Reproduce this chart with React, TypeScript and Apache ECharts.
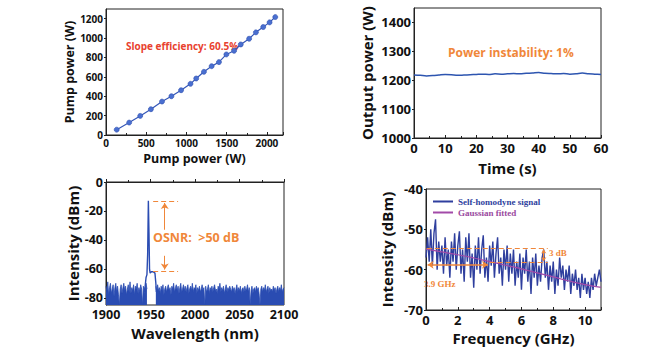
import React, { useEffect, useRef } from "react";
import * as echarts from "echarts";

// Panel (a): pump power vs output power
const pumpIn = [133, 288, 425, 558, 696, 813, 933, 1050, 1121, 1217, 1313, 1404, 1496, 1592, 1675, 1779, 1863, 1954, 2033, 2104];
const pumpOut = [55, 128, 197, 266, 345, 400, 462, 528, 583, 652, 710, 752, 831, 869, 934, 993, 1059, 1114, 1162, 1217];

// Panel (b): output power stability
const timeS = [0, 2, 4, 6, 8, 10, 12, 14, 16, 18, 20, 22, 24, 26, 28, 30, 32, 34, 36, 38, 40, 42, 44, 46, 48, 50, 52, 54, 56, 58, 60];
const outPower = [1218, 1217, 1215, 1216, 1218, 1220, 1219, 1217, 1218, 1219, 1220, 1221, 1220, 1222, 1221, 1222, 1223, 1222, 1224, 1225, 1227, 1224, 1223, 1222, 1223, 1221, 1222, 1225, 1222, 1221, 1220];

// Panel (c): optical spectrum, noise floor 1900..2100 nm at 1 nm steps (null under the peak)
const noiseStart = 1900;
const noiseFloor = [
  -72, -76, -69, -78, -73, -70, -77, -74, -71, -79,
  -73, -70, -76, -72, -78, -85, -74, -71, -77, -73,
  -70, -75, -72, -78, -74, -71, -76, -69, -77, -73,
  -75, -71, -78, -72, -74, -70, -77, -73, -76, -71,
  -74, -85, -72, -77, -73, -70, -74, null, null, null,
  null, null, null, null, null, null, -72, -76, -71, -75,
  -73, -77, -72, -75, -71, -78, -74, -72, -76, -73,
  -71, -75, -73, -78, -72, -74, -70, -76, -73, -71,
  -75, -72, -77, -73, -70, -76, -74, -71, -75, -72,
  -76, -73, -71, -77, -74, -72, -75, -70, -76, -73,
  -74, -71, -77, -73, -75, -72, -76, -74, -71, -75,
  -73, -85, -72, -76, -74, -71, -77, -73, -75, -72,
  -76, -73, -71, -75, -74, -77, -72, -74, -70, -76,
  -73, -75, -72, -77, -74, -71, -76, -73, -75, -72,
  -74, -76, -72, -75, -73, -77, -74, -71, -76, -73,
  -75, -72, -77, -74, -73, -76, -72, -75, -74, -71,
  -76, -73, -85, -75, -72, -77, -74, -73, -76, -72,
  -75, -73, -77, -85, -74, -72, -76, -73, -75, -71,
  -76, -74, -72, -77, -73, -75, -74, -76, -72, -75,
  -73, -77, -74, -72, -76, -73, -75, -71, -76, -74,
  -73,
];
const peakWl = [1943, 1944, 1945, 1946, 1946.8, 1947.6, 1948.3, 1948.9, 1949.6, 1951, 1953, 1955, 1956, 1956.6];
const peakDb = [-76, -72, -66, -64, -50, -13, -35, -60, -63, -62, -62, -63, -70, -76];

// Panel (d): self-homodyne spectrum, 0..11 GHz at 0.1 GHz steps
const freqStep = 0.1;
const homodyne = [
  -57, -52, -58, -50, -59, -51, -47.5, -60, -53, -58,
  -54, -61, -52, -59, -55, -62, -53, -58, -51, -60,
  -54, -50.5, -61, -55, -63, -52, -58, -51, -62, -56,
  -64.5, -54, -60, -52, -61, -55, -51.5, -62, -57, -63,
  -54, -59, -53, -62, -56, -52, -61, -57, -64, -55,
  -60, -54, -63, -56, -61, -55, -64, -58, -62, -56,
  -65, -57, -61, -55, -63, -58, -66, -57, -62, -56,
  -64, -59, -63, -57, -55, -62, -58, -65, -59, -63,
  -58, -66, -60, -64, -57, -62, -59, -65, -60, -63,
  -59, -66, -61, -64, -60, -65, -62, -67, -61, -65,
  -62, -66, -63, -67, -62, -65, -61, -64, -62, -60,
  -63,
];
const fitF = [0, 1, 2, 3, 4, 5, 6, 7, 8, 9, 10, 11];
const fitDb = [-54.9, -55.6, -56.3, -57.1, -58.0, -58.9, -59.8, -60.8, -61.8, -62.8, -63.7, -64.4];

const SANS = "'Open Sans', 'Noto Sans', sans-serif";
const SERIF = "'Liberation Serif', 'DejaVu Serif', serif";
const ORANGE = "#f0873a";
const AXC = "#222";
const plain = (v: number) => String(v);

function xAx(gi: number, min: number, max: number, interval: number, name: string, fs: number, nfs: number, gap: number, extra: any = {}) {
  return {
    type: "value", gridIndex: gi, min, max, interval, name, nameLocation: "middle", nameGap: gap,
    nameTextStyle: { fontFamily: SANS, fontWeight: "bold", fontSize: nfs, color: "#111" },
    axisLine: { show: true, lineStyle: { color: AXC, width: 1 } },
    axisTick: { show: true, inside: true, length: 3, lineStyle: { color: AXC } },
    minorTick: { show: true, splitNumber: 2, length: 2, lineStyle: { color: AXC } },
    axisLabel: { fontFamily: SANS, fontWeight: "bold", fontSize: fs, color: "#111", margin: 3, showMaxLabel: false, formatter: plain, ...(extra.axisLabel || {}) },
    splitLine: { show: false },
  };
}
function yAx(gi: number, min: number, max: number, interval: number | undefined, name: string, fs: number, nfs: number, gap: number, extra: any = {}) {
  const o: any = {
    type: "value", gridIndex: gi, min, max, name, nameLocation: "middle", nameGap: gap,
    nameTextStyle: { fontFamily: SANS, fontWeight: "bold", fontSize: nfs, color: "#111" },
    axisLine: { show: true, lineStyle: { color: AXC, width: 1 } },
    axisTick: { show: true, inside: false, length: 2, lineStyle: { color: AXC }, ...(extra.axisTick || {}) },
    axisLabel: { fontFamily: SANS, fontWeight: "bold", fontSize: fs, color: "#111", margin: 3, showMaxLabel: false, formatter: plain, ...(extra.axisLabel || {}) },
    splitLine: { show: false },
  };
  if (interval !== undefined) o.interval = interval;
  return o;
}

export default function App() {
  const ref = useRef<HTMLDivElement>(null);
  useEffect(() => {
    if (!ref.current) return;
    const chart = echarts.init(ref.current, undefined, { renderer: "svg" });

    const pumpData = pumpIn.map((x, i) => [x, pumpOut[i]]);
    const timeData = timeS.map((t, i) => [t, outPower[i]]);
    const noiseData = noiseFloor.map((v, i) => [noiseStart + i, v]);
    const peakData = peakWl.map((w, i) => [w, peakDb[i]]);
    const homoData = homodyne.map((v, i) => [Math.round(i * freqStep * 10) / 10, v]);
    const fitData = fitF.map((f, i) => [f, fitDb[i]]);

    const grid = (left: number, top: number, width: number, height: number) => ({
      left, top, width, height, show: true, borderColor: AXC, borderWidth: 1, backgroundColor: "#fff",
    });

    const yCustom = [0, -20, -40, -60, -80];

    chart.setOption({
      animation: false,
      backgroundColor: "#fff",
      grid: [grid(106, 9, 177, 126), grid(414, 8, 187, 130), grid(106, 182, 178, 123), grid(426, 189, 175, 121)],
      xAxis: [
        xAx(0, 0, 2200, 500, "Pump power (W)", 10, 12.5, 17),
        xAx(1, 0, 60, 10, "Time (s)", 13, 15, 22, { axisLabel: { showMaxLabel: true } }),
        xAx(2, 1900, 2100, 50, "Wavelength (nm)", 12.5, 15, 20, { axisLabel: { showMaxLabel: true } }),
        xAx(3, 0, 11, 2, "Frequency (GHz)", 13, 15, 20),
      ],
      yAxis: [
        yAx(0, 0, 1300, 200, "Pump power (W)", 10, 12.5, 30),
        yAx(1, 1000, 1450, 100, "Output power (W)", 13, 15, 40),
        yAx(2, -85, 0, undefined, "Intensity (dBm)", 12.5, 15, 25, {
          axisLabel: { customValues: yCustom, showMaxLabel: true },
          axisTick: { customValues: yCustom },
        }),
        yAx(3, -70, -40, 10, "Intensity (dBm)", 13, 15, 32, { axisLabel: { showMaxLabel: true } }),
      ],
      legend: {
        left: 428, top: 192, orient: "vertical", itemGap: 2, itemWidth: 20, itemHeight: 2, icon: "rect",
        textStyle: { fontFamily: SERIF, fontWeight: "bold", fontSize: 9 },
        data: [
          { name: "Self-homodyne signal", textStyle: { color: "#2f3f9e" } },
          { name: "Gaussian fitted", textStyle: { color: "#9a4aa0" } },
        ],
      },
      series: [
        {
          type: "line", xAxisIndex: 0, yAxisIndex: 0, data: pumpData, symbol: "circle", symbolSize: 5,
          lineStyle: { color: "#3557b8", width: 1.2 },
          itemStyle: { color: "#4a6fd0", borderColor: "#2e4fae", borderWidth: 0.6 },
        },
        {
          type: "line", xAxisIndex: 1, yAxisIndex: 1, data: timeData, symbol: "none", smooth: 0.3,
          lineStyle: { color: "#2d55b0", width: 1.5 },
        },
        {
          type: "line", xAxisIndex: 2, yAxisIndex: 2, data: noiseData, symbol: "none", connectNulls: false,
          lineStyle: { color: "#2a4cb2", width: 0.8 },
          areaStyle: { color: "#2a4cb2", opacity: 1, origin: "start" },
        },
        {
          type: "line", xAxisIndex: 2, yAxisIndex: 2, data: peakData, symbol: "none",
          lineStyle: { color: "#2a4cb2", width: 1.4 },
          markLine: {
            silent: true, symbol: ["none", "none"], animation: false,
            lineStyle: { color: ORANGE, type: [5, 3], width: 1 },
            label: { show: false },
            data: [
              [{ coord: [1953, -13] }, { coord: [1981, -13] }],
              [{ coord: [1953, -62] }, { coord: [1981, -62] }],
              [{ coord: [1966, -33], symbol: "none" }, { coord: [1966, -14.5], symbol: "arrow", symbolSize: 6, lineStyle: { type: "solid" } }],
              [{ coord: [1966, -51], symbol: "none" }, { coord: [1966, -60.5], symbol: "arrow", symbolSize: 6, lineStyle: { type: "solid" } }],
            ],
          },
        },
        {
          name: "Self-homodyne signal", type: "line", xAxisIndex: 3, yAxisIndex: 3, data: homoData, symbol: "none",
          lineStyle: { color: "#2f3f9e", width: 1.4 }, itemStyle: { color: "#2f3f9e" },
        },
        {
          name: "Gaussian fitted", type: "line", xAxisIndex: 3, yAxisIndex: 3, data: fitData, symbol: "none", smooth: true,
          lineStyle: { color: "#a24aa8", width: 1.2 }, itemStyle: { color: "#a24aa8" },
          markLine: {
            silent: true, symbol: ["none", "none"], animation: false,
            lineStyle: { color: ORANGE, type: [5, 3], width: 1.2 },
            label: { show: false },
            data: [
              [{ coord: [0.05, -54.7] }, { coord: [7.65, -54.7] }],
              [{ coord: [4.0, -58.2] }, { coord: [7.65, -58.2] }],
              [{ coord: [7.4, -55.0], symbol: "arrow", symbolSize: 4 }, { coord: [7.4, -57.9], symbol: "arrow", symbolSize: 4, lineStyle: { type: "solid" } }],
              [{ coord: [0.1, -58.8], symbol: "arrow", symbolSize: 6 }, { coord: [3.9, -58.8], symbol: "arrow", symbolSize: 6, lineStyle: { type: "solid", width: 1.5 } }],
            ],
          },
        },
      ],
      graphic: [
        { type: "text", left: 126, top: 41, style: { text: "Slope efficiency: 60.5%", fill: "#e8412e", font: `bold 10px ${SANS}` } },
        { type: "text", left: 448, top: 46, style: { text: "Power instability: 1%", fill: ORANGE, font: `bold 12px ${SANS}` } },
        { type: "text", left: 153, top: 231, style: { text: "OSNR:  >50 dB", fill: ORANGE, font: `bold 12.5px ${SANS}` } },
        { type: "text", left: 549, top: 248, style: { text: "3 dB", fill: ORANGE, font: `bold 9px ${SERIF}` } },
        { type: "text", left: 424, top: 279, style: { text: "3.9 GHz", fill: ORANGE, font: `bold 9px ${SERIF}` } },
      ],
    });
    return () => chart.dispose();
  }, []);
  return <div ref={ref} style={{ position: "absolute", left: 0, top: 0, width: 658, height: 353 }} />;
}
